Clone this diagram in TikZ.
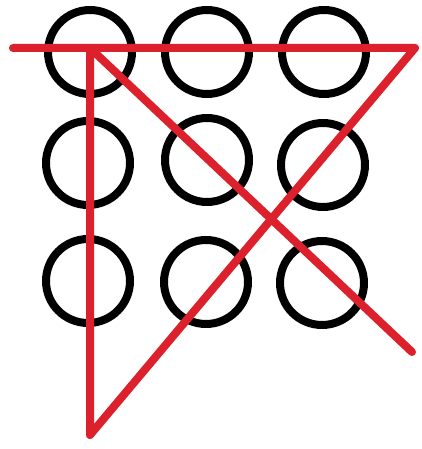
\documentclass[tikz,border=0pt]{standalone}
\begin{document}
\begin{tikzpicture}[x=1pt,y=-1pt,
  dot/.style={circle,draw=black,line width=8pt,minimum size=84pt,inner sep=0pt},
  redline/.style={draw=puzzlered,line width=8pt,line cap=round,line join=round}]
\definecolor{puzzlered}{RGB}{220,32,44}
\useasboundingbox[fill=white] (0,0) rectangle (421,449);
% circles
\node[dot] (c11) at (90,52) {};
\node[dot] (c12) at (207,52) {};
\node[dot] (c13) at (324,52) {};
\node[dot] (c21) at (88,163) {};
\node[dot] (c22) at (207,160) {};
\node[dot] (c23) at (323,165) {};
\node[dot] (c31) at (88,281) {};
\node[dot] (c32) at (206,282) {};
\node[dot] (c33) at (322,283) {};
% red path
\coordinate (p0) at (13,48);
\coordinate (p1) at (415,48);
\coordinate (p2) at (90,435);
\coordinate (p3) at (90,48);
\coordinate (p4) at (412,352);
\draw[redline] (p0) -- (p1) -- (p2) -- (p3) -- (p4);
\end{tikzpicture}
\end{document}
